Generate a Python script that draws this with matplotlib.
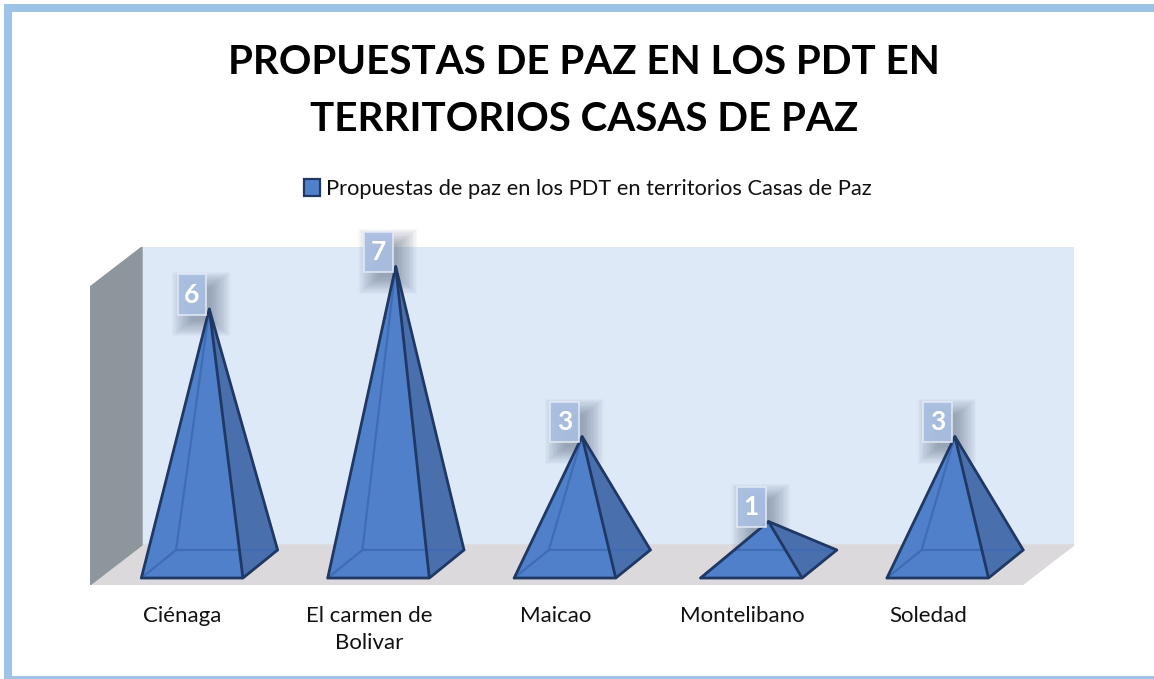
import numpy as np
from matplotlib import pyplot as plt
from matplotlib.patches import Patch, Rectangle, Polygon

plt.rcParams['font.family'] = ['Lato', 'DejaVu Sans']

titulo = 'PROPUESTAS DE PAZ EN LOS PDT EN\nTERRITORIOS CASAS DE PAZ'
serie = 'Propuestas de paz en los PDT en territorios Casas de Paz'
municipios = ['Ciénaga', 'El carmen de\nBolivar', 'Maicao', 'Montelibano', 'Soledad']
valores = [6, 7, 3, 1, 3]

W, H = 1154, 679
fig = plt.figure(figsize=(W / 100, H / 100), dpi=100, facecolor='white')

# el marco azul queda cortado por la derecha y por abajo
fig.add_artist(Rectangle((8 / W, -1 / H), 1.1, (H - 7) / H, transform=fig.transFigure,
                         fill=False, ec='#9DC3E6', lw=5.8))

ax = fig.add_axes([90 / W, (H - 585) / H, 984 / W, 338 / H])
ax.set_xlim(-0.547, 4.732)
ax.set_ylim(-0.494, 7.459)
ax.patch.set_visible(False)
for s in ax.spines.values():
    s.set_visible(False)

# profundidad del falso 3D, en unidades de los ejes
ancho = 0.547
prof_x = 0.186
prof_y = 0.33
x0, x1 = ax.get_xlim()
y0, y1 = ax.get_ylim()
pared = 52 / 186.4
alto_p = 40 / 42.5

ax.fill([x0 + pared, x1, x1, x0 + pared], [y0 + alto_p, y0 + alto_p, y1, y1],
        color='#DEE9F8', zorder=1)
ax.fill([x0, x1 - pared, x1, x0 + pared], [y0, y0, y0 + alto_p, y0 + alto_p],
        color='#DBD9DB', zorder=1)
ax.fill([x0, x0 + pared, x0 + pared, x0], [y0, y0 + alto_p, y1, y1 - alto_p],
        color='#8E969D', zorder=1)

oscuro = '#1F3864'
medio = '#3F6DB5'
for i, v in enumerate(valores):
    fl, fr = i - ancho / 2 + 0.002, i + ancho / 2
    bl, br = fl + prof_x, fr + prof_x
    ap = i + prof_x / 2

    # sombra difusa de la etiqueta
    lx, ly = ap - 0.17, v - 0.14
    for g in np.linspace(0.08, -0.03, 16):
        ax.add_patch(Rectangle((lx + 0.05 - g, ly - 0.22 - g * 3.5), 0.155 + 2 * g, 0.96 + 7 * g,
                               fc='#55657A', ec='none', alpha=0.04, zorder=2, clip_on=False))

    ax.fill([fl, fr, ap], [-prof_y, -prof_y, v], color='#5180CA', zorder=3)
    ax.fill([fr, br, ap], [-prof_y, prof_y, v], color='#4A6FAD', zorder=3)
    ax.plot([bl, ap], [prof_y, v], color=medio, lw=1.6, zorder=4)
    ax.plot([fl, bl, br], [-prof_y, prof_y, prof_y], color=medio, lw=1.6, zorder=4)
    ax.add_patch(Polygon([(fl, -prof_y), (fr, -prof_y), (br, prof_y), (ap, v)], closed=True,
                         fill=False, ec=oscuro, lw=2, joinstyle='round', zorder=5))
    ax.plot([fr, ap], [-prof_y, v], color=oscuro, lw=2, solid_capstyle='butt', zorder=5)

    ax.add_patch(Rectangle((lx, ly), 0.155, 0.96, fc='#A9BEE2', ec='#E4EBF6', lw=1.2,
                           alpha=0.9, zorder=6, clip_on=False))
    ax.text(lx + 0.0775, ly + 0.47, str(v), color='white', fontsize=19, fontweight='bold',
            ha='center', va='center', zorder=7, clip_on=False)

ax.set_yticks([])
ax.set_xticks(np.arange(len(municipios)) - 0.05)
ax.set_xticklabels(municipios, fontsize=16, color='#111111', linespacing=1.46)
ax.tick_params(axis='x', length=0, pad=15)

fig.text(584 / W, 1 - 91 / H, titulo, ha='center', va='center', fontsize=29.1,
         fontweight='bold', color='black', linespacing=1.69)

fig.legend(handles=[Patch(fc='#5180CA', ec=oscuro, lw=1.6, label=serie)],
           loc='center', bbox_to_anchor=(588 / W, 1 - 189 / H), frameon=False,
           fontsize=15.75, handlelength=0.72, handleheight=0.8, handletextpad=0.3,
           labelcolor='#111111')

fig.savefig('out.png', dpi=100)
